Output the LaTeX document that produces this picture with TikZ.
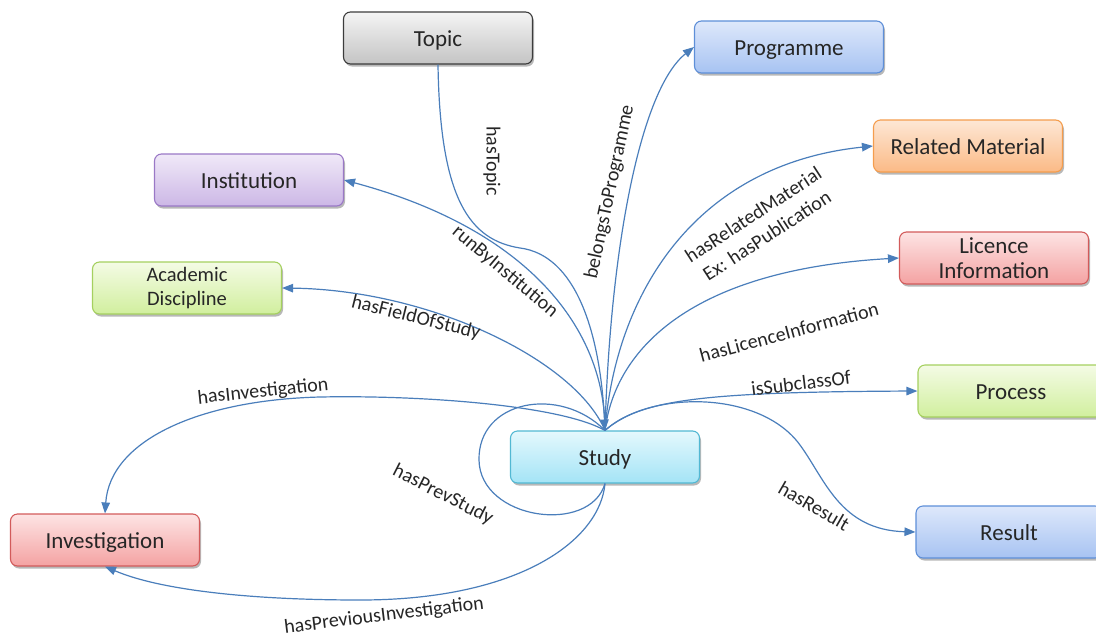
\documentclass[tikz,border=0pt]{standalone}
\usepackage{fontspec}
\setmainfont{Carlito}
\usetikzlibrary{arrows.meta,shadows}

\definecolor{edgeblue}{HTML}{4A7EBB}
\definecolor{textdark}{HTML}{262626}
\definecolor{greyT}{HTML}{F4F4F4}\definecolor{greyB}{HTML}{C4C4C4}\definecolor{greyD}{HTML}{3C3C3C}
\definecolor{blueT}{HTML}{DEE8FB}\definecolor{blueB}{HTML}{A7C3F2}\definecolor{blueD}{HTML}{5E8FD8}
\definecolor{purpT}{HTML}{F0E9F8}\definecolor{purpB}{HTML}{CCB7E6}\definecolor{purpD}{HTML}{9A78C6}
\definecolor{oranT}{HTML}{FDE7D5}\definecolor{oranB}{HTML}{FBBA86}\definecolor{oranD}{HTML}{F59D4D}
\definecolor{redT}{HTML}{FDE4E4}\definecolor{redB}{HTML}{F4A2A2}\definecolor{redD}{HTML}{D25B5B}
\definecolor{grnT}{HTML}{F4FBE5}\definecolor{grnB}{HTML}{D1EF9E}\definecolor{grnD}{HTML}{A5D05F}
\definecolor{cyanT}{HTML}{E4F8FD}\definecolor{cyanB}{HTML}{A4E4F6}\definecolor{cyanD}{HTML}{52B8D3}

\tikzset{
  box/.style={rounded corners=7pt, minimum width=189pt, minimum height=52pt,
    line width=1.1pt, align=center, inner sep=2pt,
    font=\fontsize{23}{24.5}\selectfont, text=textdark,
    drop shadow={shadow xshift=1.5pt, shadow yshift=-2.5pt, opacity=0.28, fill=black}},
  oneline/.style={text height=16pt, text depth=0pt},
  greybox/.style={box, draw=greyD, top color=greyT, bottom color=greyB},
  bluebox/.style={box, draw=blueD, top color=blueT, bottom color=blueB},
  purplebox/.style={box, draw=purpD, top color=purpT, bottom color=purpB},
  orangebox/.style={box, draw=oranD, top color=oranT, bottom color=oranB},
  redbox/.style={box, draw=redD, top color=redT, bottom color=redB},
  greenbox/.style={box, draw=grnD, top color=grnT, bottom color=grnB},
  cyanbox/.style={box, draw=cyanD, top color=cyanT, bottom color=cyanB},
  link/.style={draw=edgeblue, line width=1.2pt},
  rel/.style={link, -{Triangle[length=11pt,width=8.5pt]}},
  lbl/.style={font=\fontsize{20}{25}\selectfont, text=textdark, inner sep=0pt, align=center},
}

\begin{document}
\begin{tikzpicture}[x=1pt,y=-1pt]
\useasboundingbox (0,0) rectangle (1096,638);
\clip (0,0) rectangle (1096,638);

% classes
\node[greybox, oneline]   (topic)         at (438,38)  {Topic};
\node[bluebox, oneline]   (programme)     at (789,47)  {Programme};
\node[purplebox, oneline] (institution)   at (249,180) {Institution};
\node[orangebox, oneline] (related)       at (968,146) {Related Material};
\node[redbox]             (licence)       at (994,258) {Licence\\Information};
\node[greenbox, font=\fontsize{20.5}{24.5}\selectfont] (discipline) at (187,288) {Academic\\Discipline};
\node[greenbox, oneline, minimum width=186pt] (process) at (1011,391) {Process};
\node[cyanbox, oneline]   (study)         at (605,457) {Study};
\node[redbox, oneline]    (investigation) at (105,540) {Investigation};
\node[bluebox, oneline, minimum width=186pt]  (result)  at (1009,532) {Result};

% properties
\draw[rel] (topic.south) .. controls (440,200) and (470,240) .. (520,248)
           .. controls (575,255) and (600,330) .. (study.north);
\draw[rel] (study.north) .. controls (605,330) and (530,230) .. (institution.east);
\draw[rel] (study.north) .. controls (610,250) and (640,90) .. (programme.west);
\draw[rel] (study.north) .. controls (615,300) and (690,165) .. (related.west);
\draw[rel] (study.north) .. controls (615,350) and (690,270) .. (licence.west);
\draw[rel] (study.north) .. controls (640,400) and (700,392) .. (process.west);
\draw[rel] (study.north) .. controls (650,390) and (760,390) .. (800,445)
           .. controls (825,479) and (840,530) .. (result.west);
\draw[rel] (study.north) .. controls (575,360) and (430,290) .. (discipline.east);
\draw[rel] (study.north) .. controls (560,405) and (420,395) .. (320,397)
           .. controls (200,400) and (110,440) .. (investigation.north);
\draw[link] (study.north) .. controls (560,385) and (478,400) .. (479,460)
           .. controls (480,520) and (590,535) .. (study.south);
\draw[rel] (study.south) .. controls (600,540) and (520,600) .. (360,600)
           .. controls (250,600) and (160,590) .. (investigation.south);

% property names
\node[lbl, rotate=-90] (lTopic)   at (492,161) {hasTopic};
\node[lbl, rotate=-40] (lInst)    at (505,272) {runByInstitution};
\node[lbl, rotate=78]  (lProg)    at (610,192) {belongsToProgramme};
\node[lbl, rotate=33]  (lRel)     at (760,225) {hasRelatedMaterial\\Ex: hasPublication};
\node[lbl, rotate=15]  (lLic)     at (789,332) {hasLicenceInformation};
\node[lbl, rotate=7]   (lSub)     at (801,383) {isSubclassOf};
\node[lbl, rotate=-30] (lRes)     at (814,506) {hasResult};
\node[lbl, rotate=-14] (lField)   at (416,318) {hasFieldOfStudy};
\node[lbl, rotate=6]   (lInv)     at (263,392) {hasInvestigation};
\node[lbl, rotate=-27] (lPrev)    at (443,495) {hasPrevStudy};
\node[lbl, rotate=7]   (lPrevInv) at (384,616) {hasPreviousInvestigation};
\end{tikzpicture}
\end{document}
